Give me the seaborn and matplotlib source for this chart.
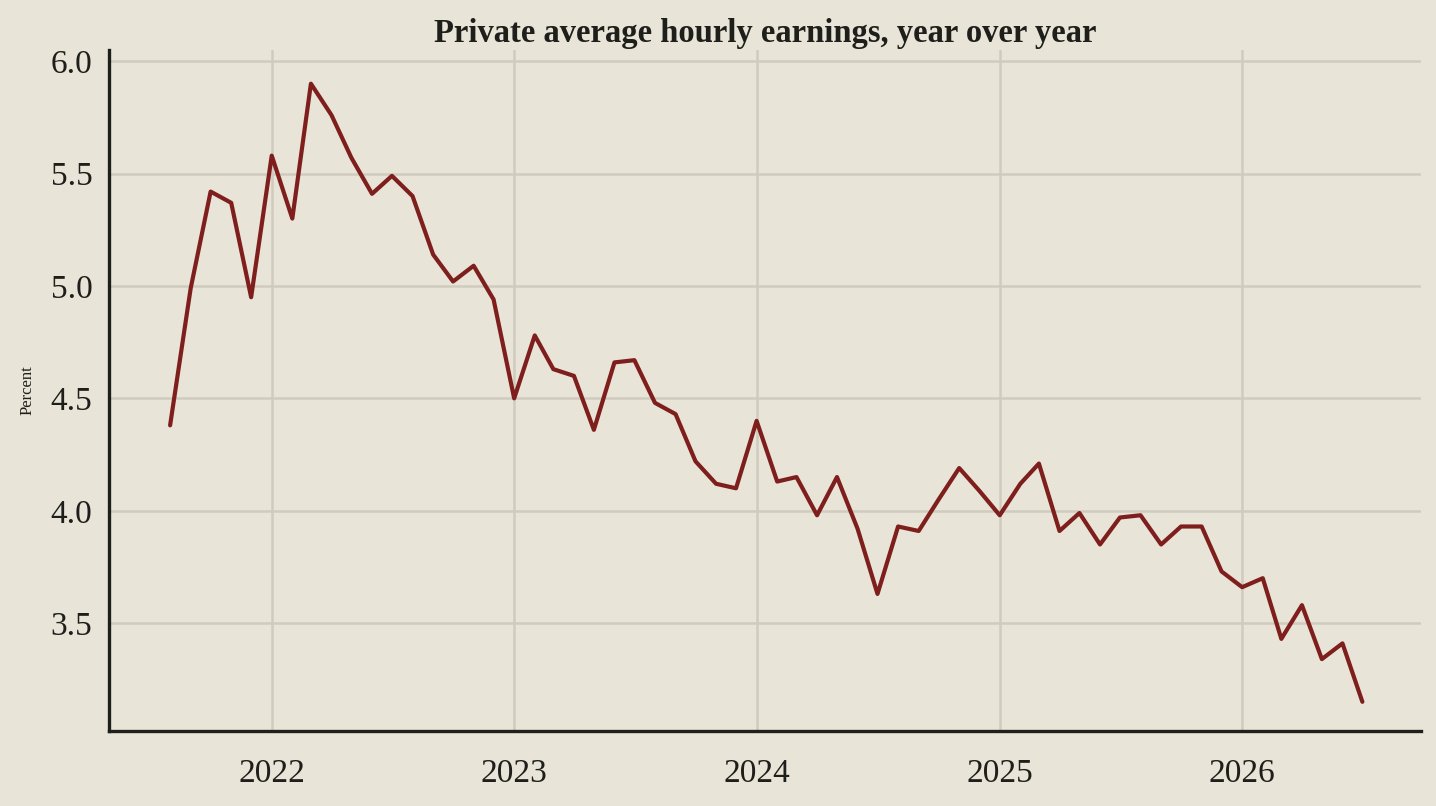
import pandas as pd
import matplotlib
matplotlib.use("Agg")
import matplotlib.pyplot as plt
import seaborn as sns

# monthly values, Aug 2021 - Jul 2026
start_month = "2021-08-01"
earnings_yoy = [
    4.38, 4.99, 5.42, 5.37, 4.95,
    5.58, 5.30, 5.90, 5.76, 5.57, 5.41, 5.49, 5.40, 5.14, 5.02, 5.09, 4.94,
    4.50, 4.78, 4.63, 4.60, 4.36, 4.66, 4.67, 4.48, 4.43, 4.22, 4.12, 4.10,
    4.40, 4.13, 4.15, 3.98, 4.15, 3.92, 3.63, 3.93, 3.91, 4.05, 4.19, 4.09,
    3.98, 4.12, 4.21, 3.91, 3.99, 3.85, 3.97, 3.98, 3.85, 3.93, 3.93, 3.73,
    3.66, 3.70, 3.43, 3.58, 3.34, 3.41, 3.15,
]
year_ticks = ["2022", "2023", "2024", "2025", "2026"]
y_ticks = [3.5, 4.0, 4.5, 5.0, 5.5, 6.0]

df = pd.DataFrame({
    "date": pd.date_range(start_month, periods=len(earnings_yoy), freq="MS"),
    "pct": earnings_yoy,
})

bg = "#E8E4D7"
sns.set_theme(style="white", rc={"axes.facecolor": bg, "figure.facecolor": bg})
plt.rcParams["font.family"] = ["Liberation Serif", "DejaVu Serif"]

fig = plt.figure(figsize=(14.36, 8.06), dpi=100)
ax = fig.add_axes([0.0759, 0.093, 0.914, 0.845])

sns.lineplot(data=df, x="date", y="pct", ax=ax, color="#7E1F1E", linewidth=3)

ax.set_xlim(pd.Timestamp("2021-05-01"), pd.Timestamp("2026-09-28"))
ax.set_ylim(3.02, 6.05)
ax.set_xticks([pd.Timestamp(y + "-01-01") for y in year_ticks])
ax.set_xticklabels(year_ticks)
ax.set_yticks(y_ticks)
ax.set_yticklabels([f"{v:.1f}" for v in y_ticks])
ax.grid(True, color="#D0CBBE", linewidth=1.8)
ax.set_axisbelow(True)

for side in ["top", "right"]:
    ax.spines[side].set_visible(False)
for side in ["left", "bottom"]:
    ax.spines[side].set_color("#1E1E1A")
    ax.spines[side].set_linewidth(2.4)

ax.tick_params(axis="both", length=0, labelsize=24, colors="#1E1E1A")
ax.tick_params(axis="x", pad=20)
ax.tick_params(axis="y", pad=12)
ax.set_xlabel("")
ax.set_ylabel("Percent", fontsize=12, color="#1E1E1A")
ax.yaxis.set_label_coords(-0.056, 0.5)
ax.set_title("Private average hourly earnings, year over year",
             fontsize=23.5, fontweight="bold", color="#1E1E1A", pad=6)

fig.savefig("out.png", dpi=100, facecolor=bg)
